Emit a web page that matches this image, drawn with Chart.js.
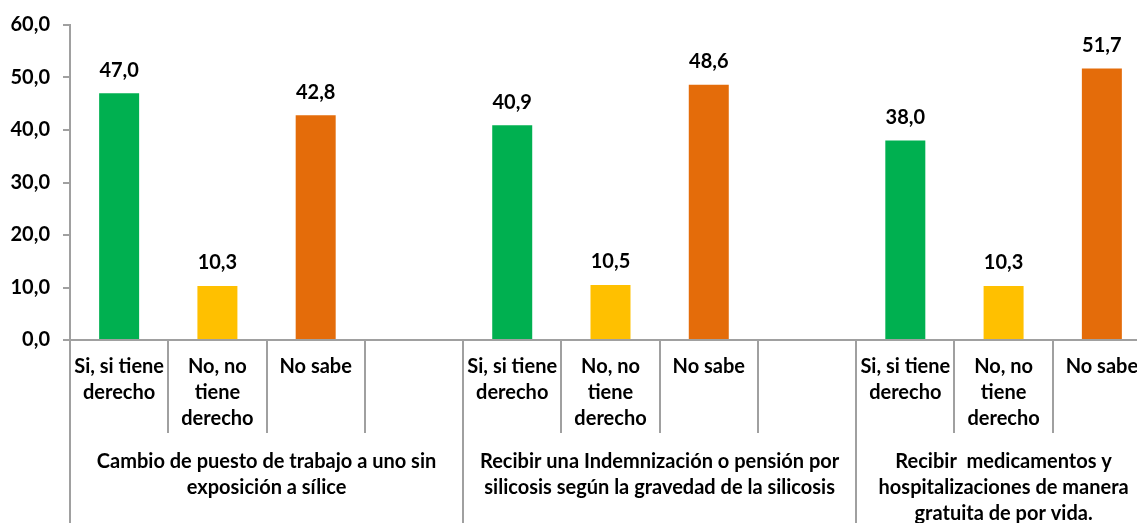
<!DOCTYPE html>
<html>
<head>
<meta charset="utf-8">
<script src="https://cdn.jsdelivr.net/npm/chart.js@4.4.1/dist/chart.umd.min.js"></script>
<style>
  html, body { margin: 0; padding: 0; background: #fff; overflow: hidden; }
  /* the plot runs a bit past the right edge of the window, as in the original */
  #wrap { width: 1156px; height: 523px; position: relative; }
</style>
</head>
<body>
<div id="wrap"><canvas id="chart"></canvas></div>
<script>
// ---- data ----
const categories = [
  ["Si, si tiene", "derecho"], ["No, no", "tiene", "derecho"], ["No sabe"], [],
  ["Si, si tiene", "derecho"], ["No, no", "tiene", "derecho"], ["No sabe"], [],
  ["Si, si tiene", "derecho"], ["No, no", "tiene", "derecho"], ["No sabe"]
];
const values = [47.0, 10.3, 42.8, null, 40.9, 10.5, 48.6, null, 38.0, 10.3, 51.7];
const barColors = [
  "#00B050", "#FFC000", "#E46C0A", "#fff",
  "#00B050", "#FFC000", "#E46C0A", "#fff",
  "#00B050", "#FFC000", "#E46C0A"
];
const groupLabels = [
  ["Cambio de puesto de trabajo a uno sin", "exposición a sílice"],
  ["Recibir una Indemnización o pensión por", "silicosis según la gravedad de la silicosis"],
  ["Recibir  medicamentos y", "hospitalizaciones de manera", "gratuita de por vida."]
];
const groupStart = [0, 4, 8];
const groupSize = [4, 4, 3];
const yTicks = [0, 10, 20, 30, 40, 50, 60];

const FONT = "Lato";
const AXIS = "#A0A0A0";

function fmt(v) {
  return v.toFixed(1).replace(".", ",");
}

// multi-level category axis + value labels
const multiAxis = {
  id: "multiAxis",
  afterDraw(chart) {
    const ctx = chart.ctx;
    const x = chart.scales.x;
    const n = categories.length;
    const slot = (x.right - x.left) / n;
    const base = chart.chartArea.bottom;

    ctx.save();
    ctx.strokeStyle = AXIS;
    ctx.lineWidth = 2;
    const edges = groupStart.concat([groupStart[2] + groupSize[2]]);
    for (let i = 0; i <= n; i++) {
      const px = Math.round(x.left + i * slot);
      const bottom = edges.includes(i) ? chart.height : base + 93;
      ctx.beginPath();
      ctx.moveTo(px, base);
      ctx.lineTo(px, bottom);
      ctx.stroke();
    }

    ctx.fillStyle = "#000";
    ctx.textAlign = "center";
    ctx.textBaseline = "middle";
    ctx.font = "bold 20px " + FONT;

    // first level
    categories.forEach((lines, i) => {
      const cx = x.getPixelForValue(i);
      lines.forEach((t, k) => ctx.fillText(t, cx, base + 27 + k * 26));
    });

    // second level
    groupLabels.forEach((lines, g) => {
      const a = x.left + groupStart[g] * slot;
      const b = x.left + (groupStart[g] + groupSize[g]) * slot;
      lines.forEach((t, k) => ctx.fillText(t, (a + b) / 2, base + 122 + k * 26));
    });

    // value labels
    const meta = chart.getDatasetMeta(0);
    meta.data.forEach((bar, i) => {
      if (values[i] == null) return;
      ctx.fillText(fmt(values[i]), bar.x, bar.y - 23);
    });
    ctx.restore();
  }
};

new Chart(document.getElementById("chart"), {
  type: "bar",
  data: {
    labels: categories.map(c => c.join(" ")),
    datasets: [{
      data: values,
      backgroundColor: barColors,
      borderWidth: 0,
      categoryPercentage: 1,
      barPercentage: 0.407
    }]
  },
  options: {
    responsive: true,
    maintainAspectRatio: false,
    animation: false,
    layout: { padding: { top: 25, bottom: 183, left: 0, right: 5 } },
    plugins: {
      legend: { display: false },
      tooltip: { enabled: false }
    },
    scales: {
      x: {
        afterFit: s => { s.height = 0; },
        grid: { display: false },
        ticks: { display: false },
        border: { display: true, color: AXIS, width: 2 }
      },
      y: {
        min: 0,
        max: 60,
        afterBuildTicks: s => { s.ticks = yTicks.map(v => ({ value: v })); },
        afterFit: s => { s.width = 70; },
        grid: { drawOnChartArea: false, drawTicks: true, tickLength: 7, color: AXIS, lineWidth: 2 },
        border: { display: true, color: AXIS, width: 2 },
        ticks: {
          padding: 13,
          color: "#000",
          font: { family: FONT, size: 20, weight: "bold" },
          callback: v => fmt(v)
        }
      }
    }
  },
  plugins: [multiAxis]
});
</script>
</body>
</html>
